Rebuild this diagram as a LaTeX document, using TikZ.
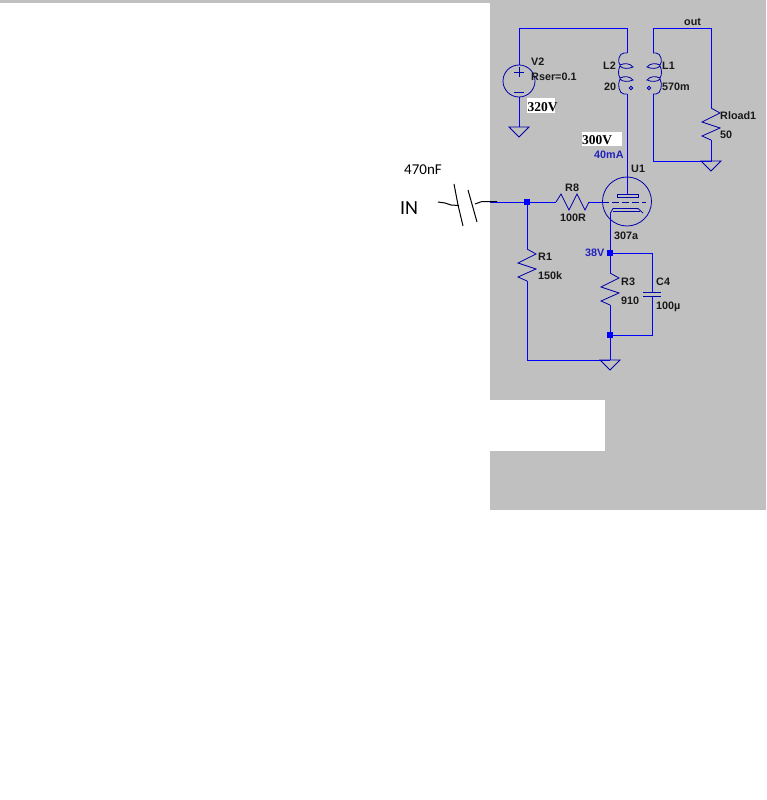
\documentclass[tikz,border=0pt]{standalone}
\usepackage{fontspec}
\setmainfont{Liberation Sans}
\newfontfamily\handfont{Carlito}
\newfontfamily\notefont{Liberation Serif}
\usepackage{xcolor}
\usetikzlibrary{positioning,calc}
\definecolor{schemgray}{RGB}{192,192,192}
\definecolor{wireblue}{RGB}{0,0,255}
\definecolor{partblue}{RGB}{0,0,170}
\definecolor{probeblue}{RGB}{35,35,190}
\definecolor{labeldark}{RGB}{25,25,25}
\tikzstyle{coord} = [coordinate]
\tikzstyle{wire} = [draw=wireblue, line width=0.95pt]
\tikzstyle{part} = [draw=partblue, line width=0.8pt]
\tikzstyle{dot} = [fill=wireblue, rectangle, inner sep=0pt, minimum size=5.5pt]
\tikzstyle{lbl} = [anchor=west, inner sep=0pt, yshift=-0.8pt, font=\fontsize{10.8}{12}\bfseries, text=labeldark]
\tikzstyle{probe} = [lbl, text=probeblue]
\tikzstyle{note} = [anchor=west, inner sep=0pt, font=\fontsize{13.5}{15}\notefont\bfseries, text=black]
\tikzstyle{ink} = [draw=black, line width=1pt]
\tikzset{
  resv/.pic={\draw[part] (0,0) -- (9,5) -- (-9,14) -- (9,20) -- (-9,28) -- (0,32);},
  resh/.pic={\draw[part] (0,0) -- (5,-8) -- (13,8) -- (21,-8) -- (29,8) -- (33,0);},
  gnd/.pic={\draw[part] (-10,0) -- (10,0) -- (0,10) -- cycle;},
  coil/.pic={\draw[part] (0,0) -- (-3,0) .. controls (-8,0) and (-10,9) .. (-7,12)
      .. controls (-3,10) and (3,10) .. (6,14) .. controls (2,16) and (-5,16) .. (-7,13)
      .. controls (-9,17) and (-9,22) .. (-7,25)
      .. controls (-3,23) and (3,23) .. (6,27) .. controls (2,29) and (-5,29) .. (-7,26)
      .. controls (-10,31) and (-8,41) .. (-3,41) -- (0,41);
    \draw[part] (4,35) circle (1.7);},
}
\begin{document}
\begin{tikzpicture}[x=1pt,y=-1pt]
	\useasboundingbox (0,0) rectangle (766,800);
	% screenshot background
	\fill[schemgray] (0,0) rectangle (766,3);
	\fill[schemgray] (490,0) rectangle (766,510);
	\fill[white] (490,400) rectangle (605,451);
	
	% corners and ports
	\node[coord] (in) at (490,202) {};
	\node[coord] (v2top) at (519,65) {};
	\node[coord] (v2bot) at (519,97) {};
	\node[coord] (gndv) at (519,127) {};
	\node[coord] (topl) at (519,28) {};
	\node[coord] (topm) at (627,28) {};
	\node[coord] (l2a) at (627,53) {};
	\node[coord] (l2b) at (627,94) {};
	\node[coord] (plate) at (627,194) {};
	\node[coord] (topn) at (653,28) {};
	\node[coord] (topr) at (711,28) {};
	\node[coord] (l1a) at (653,53) {};
	\node[coord] (l1b) at (653,94) {};
	\node[coord] (lowl) at (653,161) {};
	\node[coord] (lowr) at (711,161) {};
	\node[coord] (rla) at (711,108) {};
	\node[coord] (rlb) at (711,140) {};
	\node[coord] (r8a) at (556,202) {};
	\node[coord] (r8b) at (589,202) {};
	\node[coord] (grid) at (602,202) {};
	\node[coord] (cath) at (610,213) {};
	\node[coord] (r1a) at (527,249) {};
	\node[coord] (r1b) at (527,281) {};
	\node[coord] (botl) at (527,360) {};
	\node[coord] (botm) at (610,360) {};
	\node[coord] (r3a) at (610,273) {};
	\node[coord] (r3b) at (610,305) {};
	\node[coord] (c4top) at (652,253) {};
	\node[coord] (c4a) at (652,292.5) {};
	\node[coord] (c4b) at (652,296.5) {};
	\node[coord] (c4bot) at (652,335) {};
	\node[dot] (j1) at (527,202) {};
	\node[dot] (j2) at (610,253) {};
	\node[dot] (j3) at (610,335) {};
	
	% wires
	\draw[wire] (v2top) -- (topl) -- (topm) -- (l2a);
	\draw[wire] (v2bot) -- (gndv);
	\draw[wire] (l2b) -- (plate);
	\draw[wire] (l1a) -- (topn) -- (topr) -- (rla);
	\draw[wire] (rlb) -- (lowr) -- (lowl) -- (l1b);
	\draw[wire] (in) -- (j1) -- (r8a);
	\draw[wire] (r8b) -- (grid);
	\draw[wire] (j1) -- (r1a);
	\draw[wire] (r1b) -- (botl) -- (botm);
	\draw[wire] (cath) -- (j2) -- (r3a);
	\draw[wire] (r3b) -- (j3) -- (botm);
	\draw[wire] (j2) -- (c4top) -- (c4a);
	\draw[wire] (c4b) -- (c4bot) -- (j3);
	
	% parts
	\draw[part] (519,81) circle (16);
	\draw[part] (514,72) -- (524,72) (519,67) -- (519,77) (514,92) -- (524,92);
	\pic at (gndv) {gnd};
	\pic at (lowr) {gnd};
	\pic at (botm) {gnd};
	\pic at (l2a) {coil};
	\pic[xscale=-1] at (l1a) {coil};
	\pic at (rla) {resv};
	\pic at (r1a) {resv};
	\pic at (r3a) {resv};
	\pic at (r8a) {resh};
	\draw[part] (643,292.5) -- (661,292.5) (643,296.5) -- (661,296.5);
	
	% tube
	\draw[part] (627,201.5) circle (24.5);
	\draw[part] (617,194) rectangle (638,197);
	\draw[part, dash pattern=on 7pt off 3pt] (602,202) -- (646,202);
	\draw[part] (610.5,213) -- (613,208.5) -- (638,208.5) -- (643,213);
	\draw[part] (613,211) -- (640,211);
	
	% labels
	\node[lbl] (out) at (684,21) {out};
	\node[lbl] (V2) at (531,61) {V2};
	\node[lbl] (Rser) at (531,76) {Rser=0.1};
	\node[lbl] (L2) at (603,65) {L2};
	\node[lbl] (L2val) at (604,86) {20};
	\node[lbl] (L1) at (662,65) {L1};
	\node[lbl] (L1val) at (662,86) {570m};
	\node[lbl] (Rload) at (720,115) {Rload1};
	\node[lbl] (Rloadval) at (720,134) {50};
	\node[lbl] (U1) at (631,168) {U1};
	\node[lbl] (U1val) at (614,235) {307a};
	\node[lbl] (R8) at (565,187) {R8};
	\node[lbl] (R8val) at (560,217) {100R};
	\node[lbl] (R1) at (538,256) {R1};
	\node[lbl] (R1val) at (538,275) {150k};
	\node[lbl] (R3) at (621,281) {R3};
	\node[lbl] (R3val) at (621,300) {910};
	\node[lbl] (C4) at (656,281) {C4};
	\node[lbl] (C4val) at (656,306) {100µ};
	\node[probe] (Icur) at (594,154) {40mA};
	\node[probe] (Vcath) at (585,252) {38V};
	
	% pasted notes
	\fill[white] (527,98) rectangle (555,113);
	\fill[white] (582,132) rectangle (622,146);
	\node[note] (Vsup) at (527.5,107) {320V};
	\node[note] (Vplate) at (582,140) {300V};
	\node[anchor=west, inner sep=0pt, font=\fontsize{15}{17}\handfont] (Cval) at (404,170) {470nF};
	\node[anchor=west, inner sep=0pt, font=\fontsize{20}{22}\handfont] (IN) at (400,208) {IN};
	
	% hand drawn capacitor
	\node[coord] (capl) at (438,202) {};
	\node[coord] (capr) at (497,201.5) {};
	\draw[ink] (capl) -- (445,203) -- (451,205) -- (459,205.5);
	\draw[ink] (475,204) -- (482,201.5) -- (capr);
	\draw[ink] (454,184) -- (458,205) -- (463,226);
	\draw[ink] (468,190) -- (477,222);
\end{tikzpicture}
\end{document}
